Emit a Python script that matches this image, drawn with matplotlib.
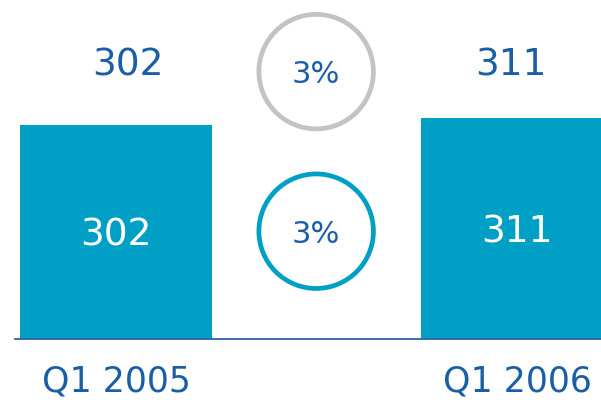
import numpy as np
import matplotlib
matplotlib.use('Agg')
import matplotlib.pyplot as plt

# data
categories = ['Q1 2005', 'Q1 2006']
values = [302, 311]
growth_labels = ['3%', '3%']   # top (grey) and bottom (teal) circles

BAR_COLOR = '#00A0C6'
TEXT_COLOR = '#1A5FA6'
GREY = '#C3C3C3'

fig = plt.figure(figsize=(6.01, 4.0), dpi=100)
ax = fig.add_axes([0, 0, 1, 1])
ax.set_xlim(-0.289, 1.209)
ax.set_ylim(-86, 478)
ax.axis('off')

x = np.arange(len(categories))
ax.bar(x, values, width=0.479, color=BAR_COLOR, zorder=2)

# baseline
ax.plot([-0.252, 1.25], [0, 0], color='#2A64A8', lw=1.3, zorder=3)

for xi, v, cat in zip(x, values, categories):
    ax.text(xi, v / 2 - 5, str(v), color='white', fontsize=27, ha='center', va='center', zorder=4)
    ax.text(xi + (0.03 if xi == 0 else -0.015), 386, str(v), color=TEXT_COLOR, fontsize=27,
            ha='center', va='center')
    ax.text(xi, -60, cat, color=TEXT_COLOR, fontsize=25, ha='center', va='center')

# growth circles
circle_y = [377, 152]
circle_c = [GREY, BAR_COLOR]
for cy, cc, lab in zip(circle_y, circle_c, growth_labels):
    ax.scatter([0.499], [cy], s=6800, facecolors='none', edgecolors=cc, linewidths=3.4, zorder=3)
    ax.text(0.499, cy - 4, lab, color=TEXT_COLOR, fontsize=22, ha='center', va='center')

fig.savefig('out.png', dpi=100)
plt.close()
